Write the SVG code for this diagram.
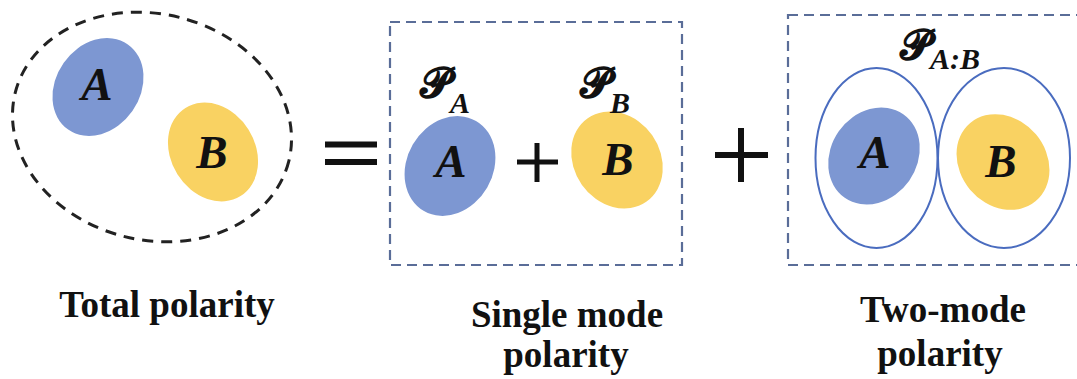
<svg xmlns="http://www.w3.org/2000/svg" width="1077" height="379" viewBox="0 0 1077 379">
<style>
.bg{fill:#ffffff}
.blue{fill:#7d97d2}
.yellow{fill:#f9d262}
.let{font-family:"Liberation Serif","Times New Roman",serif;font-weight:bold;font-style:italic;font-size:47px;fill:#111;text-anchor:middle}
.cap{font-family:"Liberation Serif","Times New Roman",serif;font-weight:bold;font-size:37px;fill:#111;text-anchor:middle}
.scr{font-family:"DejaVu Serif","DejaVu Sans",serif;font-weight:bold;font-size:42px;fill:#111}
.sub{font-family:"Liberation Serif","Times New Roman",serif;font-weight:bold;font-style:italic;font-size:30px;fill:#111}
.dbox{fill:none;stroke:#5a6d98;stroke-width:2.2;stroke-dasharray:10 6}
.outl{fill:none;stroke:#4a6cbf;stroke-width:2}
.op{stroke:#111;stroke-linecap:butt}
</style>
<rect class="bg" x="0" y="0" width="1077" height="379"/>

<g id="total">
  <ellipse cx="152" cy="127" rx="141" ry="113" transform="rotate(14 152 127)" fill="none" stroke="#222" stroke-width="3" stroke-dasharray="11 8"/>
  <g id="total-A">
    <ellipse class="blue" cx="98" cy="87" rx="42" ry="52" transform="rotate(35 98 87)"/>
    <text class="let" x="97" y="100">A</text>
  </g>
  <g id="total-B">
    <ellipse class="yellow" cx="213" cy="152" rx="42" ry="52" transform="rotate(-32 213 152)"/>
    <text class="let" x="212" y="168">B</text>
  </g>
  <text class="cap" x="167" y="317">Total polarity</text>
</g>

<g id="equals">
  <line class="op" x1="325" y1="144.5" x2="377" y2="144.5" stroke-width="6"/>
  <line class="op" x1="325" y1="162" x2="377" y2="162" stroke-width="6"/>
</g>

<g id="single">
  <rect class="dbox" x="390" y="22" width="292" height="243"/>
  <g id="single-A">
    <ellipse class="blue" cx="450" cy="166" rx="43" ry="52" transform="rotate(30 450 166)"/>
    <text class="let" x="451" y="177">A</text>
    <text x="420" y="97"><tspan class="scr">𝓟</tspan><tspan class="sub" dy="16">A</tspan></text>
  </g>
  <g id="single-plus">
    <line class="op" x1="517" y1="162" x2="558" y2="162" stroke-width="5"/>
    <line class="op" x1="537" y1="143" x2="537" y2="182" stroke-width="5"/>
  </g>
  <g id="single-B">
    <ellipse class="yellow" cx="617" cy="160" rx="43" ry="51" transform="rotate(-35 617 160)"/>
    <text class="let" x="618" y="175">B</text>
    <text x="580" y="97"><tspan class="scr">𝓟</tspan><tspan class="sub" dy="16">B</tspan></text>
  </g>
  <text class="cap" x="567" y="327">Single mode</text>
  <text class="cap" x="566" y="367">polarity</text>
</g>

<g id="plus">
  <line class="op" x1="715" y1="155" x2="768" y2="155" stroke-width="6"/>
  <line class="op" x1="741" y1="128" x2="741" y2="182" stroke-width="6"/>
</g>

<g id="two">
  <rect class="dbox" x="788" y="15" width="320" height="250"/>
  <text x="900" y="59"><tspan class="scr">𝓟</tspan><tspan class="sub" dy="10">A:B</tspan></text>
  <g id="two-A">
    <ellipse class="outl" cx="876.5" cy="158" rx="61" ry="90"/>
    <ellipse class="blue" cx="874" cy="156" rx="43" ry="51" transform="rotate(35 874 156)"/>
    <text class="let" x="875" y="168">A</text>
  </g>
  <g id="two-B">
    <ellipse class="outl" cx="1004" cy="158" rx="66" ry="90"/>
    <ellipse class="yellow" cx="1003" cy="162" rx="43" ry="51" transform="rotate(-40 1003 162)"/>
    <text class="let" x="1001" y="177">B</text>
  </g>
  <text class="cap" x="943" y="322">Two-mode</text>
  <text class="cap" x="940" y="366">polarity</text>
</g>
</svg>
